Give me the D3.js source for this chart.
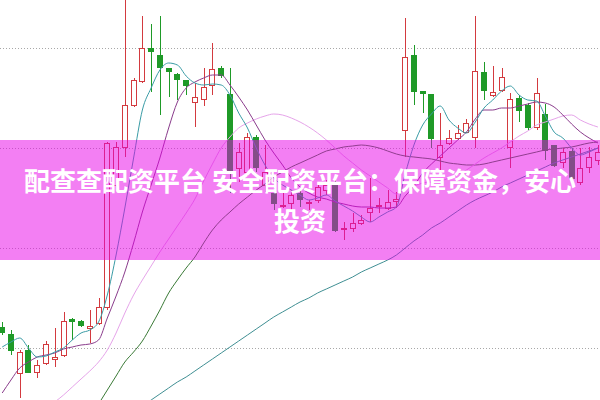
<!DOCTYPE html>
<html><head><meta charset="utf-8">
<script src="https://cdn.jsdelivr.net/npm/d3@7/dist/d3.min.js"></script>
<style>html,body{margin:0;padding:0;background:#fff;overflow:hidden}svg{display:block}</style>
</head><body><svg id="c" width="600" height="400"></svg>
<script>
// ---- data ----
const openP  = [3.21,3.14,2.75,2.98,2.76,2.85,2.89,2.93,3.29,3.27,3.20,3.25,3.41,4.63,5.01,5.43,5.67,6.00,5.93,5.80,5.74,5.68,5.46,5.49,5.63,5.80,5.54,4.80,4.76,5.11,4.63,4.55,4.42,4.45,4.55,4.45,4.48,4.58,4.63,4.19,4.20,4.25,4.36,4.42,4.40,4.47,5.18,5.93,5.57,5.54,4.91,5.05,5.10,5.16,5.11,5.76,5.53,5.58,5.01,5.50,5.43,5.21,5.34,5.03,4.86,4.97,4.66,4.81,4.88];
const closeP = [3.16,2.98,2.96,2.76,2.83,3.04,2.91,3.27,3.27,3.23,3.22,3.41,5.05,5.01,5.43,5.68,6.00,5.97,5.81,5.77,5.69,5.63,5.51,5.61,5.79,5.73,4.78,4.96,5.11,4.81,4.76,4.45,4.43,4.53,4.49,4.46,4.61,4.63,4.18,4.20,4.25,4.28,4.40,4.43,4.46,4.49,5.91,5.57,5.55,5.10,5.03,5.10,5.15,5.25,5.77,5.58,5.56,5.71,5.49,5.38,5.21,5.55,4.98,4.83,4.96,4.70,4.80,4.91,4.96];
const highP  = [3.26,3.18,2.98,3.03,2.88,3.07,3.20,3.36,3.30,3.28,3.38,3.50,5.06,5.06,6.50,5.70,6.32,6.24,6.32,5.80,5.75,5.68,5.65,5.80,6.05,5.82,5.80,5.05,5.15,5.13,5.03,4.60,4.55,4.58,4.58,4.48,4.65,4.68,4.68,4.26,4.35,4.33,4.70,4.50,4.58,4.56,6.30,6.03,5.57,5.54,5.35,5.18,5.23,5.29,6.32,5.86,5.82,5.80,5.55,5.53,5.45,5.70,5.44,5.03,5.00,5.00,5.00,5.01,5.03];
const lowP   = [3.13,2.93,2.50,2.75,2.70,2.83,2.81,2.91,3.08,3.21,3.05,3.23,3.38,4.58,4.91,5.41,5.65,5.56,5.33,5.51,5.48,5.53,5.21,5.42,5.53,5.70,4.55,4.66,4.72,4.76,4.56,4.38,4.40,4.36,4.41,4.38,4.45,4.53,4.16,4.08,4.16,4.23,4.26,4.35,4.38,4.40,4.91,5.43,5.35,5.00,4.78,5.03,5.08,5.15,5.00,5.48,5.51,5.56,4.80,5.26,5.18,5.18,4.88,4.81,4.80,4.63,4.63,4.75,4.83];
const ma5  = [3.01,3.06,3.10,3.00,2.91,2.92,2.96,3.00,3.08,3.15,3.18,3.26,3.53,3.93,4.40,4.90,5.38,5.60,5.78,5.85,5.83,5.72,5.65,5.63,5.64,5.63,5.53,5.35,5.20,5.00,4.83,4.70,4.63,4.58,4.53,4.48,4.50,4.53,4.47,4.42,4.37,4.31,4.26,4.31,4.36,4.41,4.74,5.03,5.23,5.34,5.42,5.28,5.20,5.15,5.26,5.40,5.48,5.57,5.62,5.53,5.48,5.47,5.32,5.16,5.10,5.00,4.93,4.96,5.00];
const ma10 = [2.55,2.68,2.80,2.86,2.91,2.93,2.95,2.99,3.01,3.03,3.04,3.08,3.30,3.52,3.76,4.05,4.36,4.63,4.90,5.20,5.46,5.60,5.66,5.70,5.73,5.73,5.63,5.51,5.38,5.23,5.08,4.95,4.83,4.70,4.61,4.55,4.51,4.49,4.46,4.44,4.42,4.41,4.41,4.40,4.40,4.41,4.52,4.62,4.75,4.84,4.92,5.00,5.08,5.16,5.29,5.38,5.38,5.40,5.40,5.42,5.44,5.46,5.45,5.41,5.33,5.24,5.16,5.10,5.05];
const ma20 = [null,null,null,null,null,null,2.46,2.53,2.61,2.69,2.77,2.86,2.98,3.15,3.35,3.53,3.68,3.82,3.96,4.09,4.22,4.35,4.49,4.67,4.84,5.00,5.11,5.20,5.25,5.29,5.32,5.34,5.33,5.30,5.26,5.21,5.15,5.08,5.00,4.92,4.85,4.78,4.72,4.66,4.60,4.54,4.59,4.62,4.65,4.66,4.67,4.70,4.74,4.78,4.84,4.90,4.95,5.00,5.06,5.12,5.17,5.23,5.26,5.29,5.32,5.33,5.28,5.24,5.21];
const ma30 = [null,null,null,null,null,null,null,null,null,null,null,2.44,2.58,2.72,2.86,2.96,3.07,3.22,3.38,3.55,3.68,3.80,3.91,4.05,4.18,4.28,4.36,4.44,4.51,4.58,4.64,4.71,4.76,4.81,4.85,4.89,4.93,4.97,4.99,5.01,5.02,5.03,5.02,5.00,4.97,4.94,4.92,4.91,4.90,4.89,4.87,4.85,4.84,4.83,4.83,4.84,4.86,4.88,4.90,4.92,4.94,4.96,4.98,4.99,5.00,5.01,5.03,5.05,5.06];
const ma60 = [null,null,null,null,null,null,null,null,null,null,null,null,null,null,null,null,2.42,2.48,2.54,2.60,2.66,2.71,2.77,2.83,2.89,2.95,3.01,3.07,3.13,3.19,3.25,3.31,3.36,3.41,3.46,3.50,3.55,3.59,3.63,3.67,3.71,3.76,3.80,3.84,3.88,3.93,4.00,4.07,4.13,4.20,4.25,4.31,4.37,4.43,4.48,4.52,4.56,4.61,4.65,4.69,4.73,4.77,4.81,4.85,4.88,4.91,4.94,4.97,5.00];
const gridTicks = [3, 4, 5, 6];
const bannerLines = ["配查查配资平台 安全配资平台：保障资金，安心", "投资"];
const days = d3.range(openP.length);

// ---- drawing ----
const W = 600, H = 400;
const svg = d3.select("#c");
const x = d3.scalePoint().domain(days).range([2.2, 597.9]);
const y = d3.scaleLinear().domain([2.48, 6.48]).range([H, 0]);
const bodyW = 6;

svg.append("g").selectAll("line").data(gridTicks).join("line")
  .attr("x1", 0).attr("x2", W)
  .attr("y1", d => Math.round(y(d)) + 0.5).attr("y2", d => Math.round(y(d)) + 0.5)
  .attr("stroke", "#a8a8a8").attr("stroke-width", 1).attr("stroke-dasharray", "1,2");

const RED = "#d33a3f", GREEN = "#1f9a28";
const candles = days.map(i => ({i, o: openP[i], c: closeP[i], h: highP[i], l: lowP[i]}));
const cg = svg.append("g");
candles.forEach(d => {
  const up = d.c >= d.o;
  const col = up ? RED : GREEN;
  const cx = Math.round(x(d.i)) + 0.5;
  cg.append("line").attr("x1", cx).attr("x2", cx)
    .attr("y1", y(d.h)).attr("y2", y(d.l)).attr("stroke", col).attr("stroke-width", 1);
  const top = y(Math.max(d.o, d.c)), bot = y(Math.min(d.o, d.c));
  const bx = Math.round(x(d.i) - bodyW / 2) + 0.5;
  cg.append("rect").attr("x", bx).attr("y", Math.round(top) + 0.5)
    .attr("width", bodyW - 1).attr("height", Math.max(1, Math.round(bot - top)))
    .attr("fill", up ? "#fff" : col).attr("stroke", col).attr("stroke-width", 1);
});

const lines = [
  {v: ma60, c: "#3f8f93"},
  {v: ma30, c: "#3a7a36"},
  {v: ma20, c: "#e6a4ea"},
  {v: ma10, c: "#8a3c8c"},
  {v: ma5,  c: "#3a9ca6"}
];
const lg = d3.line().defined(d => d[1] != null).x(d => x(d[0])).y(d => y(d[1])).curve(d3.curveMonotoneX);
lines.forEach(L => {
  svg.append("path").datum(days.map(i => [i, L.v[i]]))
    .attr("d", lg).attr("fill", "none").attr("stroke", L.c).attr("stroke-width", 1);
});

// banner overlay
svg.append("rect").attr("x", 0).attr("y", 140).attr("width", W).attr("height", 120)
  .attr("fill", "rgb(232,0,232)").attr("fill-opacity", 0.5);
svg.append("g").selectAll("text").data(bannerLines).join("text")
  .attr("x", W / 2).attr("y", (d, k) => 191 + k * 40)
  .attr("text-anchor", "middle")
  .attr("font-family", "'Noto Sans CJK SC', 'Noto Sans', sans-serif")
  .attr("font-weight", 700).attr("font-size", 26).attr("fill", "#fff")
  .text(d => d);
</script></body></html>
